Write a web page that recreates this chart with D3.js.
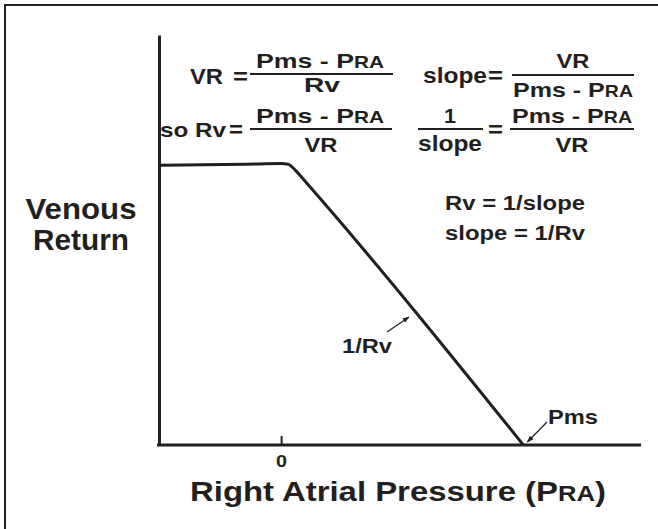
<!DOCTYPE html>
<html><head><meta charset="utf-8">
<script src="https://cdn.jsdelivr.net/npm/d3@7"></script>
<style>
html,body{margin:0;padding:0;background:#fff;}
svg{display:block;}
text{font-family:"Liberation Sans",Arial,Helvetica,sans-serif;font-weight:bold;fill:#231f20;}
</style></head>
<body>
<script>
// ---- data ----
const pressure = [-3.5, -1.0, 0.0, 0.2, 0.4, 0.7, 7.0];      // right atrial pressure (PRA)
const venousReturn = [4.98, 5.0, 5.01, 5.0, 4.9, 4.69, 0.0]; // venous return
const xTicks = [0];
const xTickLabels = ["0"];
const pmsValue = 7.0;
const yTitle = ["Venous", "Return"];
const xTitle = ["Right Atrial Pressure (P", "RA", ")"];
const slopeLabel = "1/Rv";
const pmsLabel = "Pms";
const relations = ["Rv = 1/slope", "slope = 1/Rv"];

const W = 658, H = 529;
const ink = "#231f20";
const svg = d3.select("body").append("svg").attr("width", W).attr("height", H);

// outer frame (only left and top visible)
svg.append("rect").attr("x", 5).attr("y", 5).attr("width", 700).attr("height", 600)
  .attr("fill", "none").attr("stroke", ink).attr("stroke-width", 2);

const x = d3.scaleLinear().domain([-3.5, 10.4]).range([160, 641]);
const y = d3.scaleLinear().domain([0, 7.3]).range([445, 35]);

// x axis
const xAxis = svg.append("g").attr("transform", `translate(0,${y(0)})`)
  .call(d3.axisBottom(x).tickValues(xTicks).tickFormat((d, i) => xTickLabels[i])
    .tickSizeInner(-9).tickSizeOuter(0).tickPadding(10));
xAxis.select(".domain").attr("stroke", ink).attr("stroke-width", 3)
  .attr("d", `M${x.range()[0] - 3},0H${x.range()[1]}`);
xAxis.selectAll(".tick line").attr("stroke", ink).attr("stroke-width", 2);
xAxis.selectAll(".tick text").attr("font-size", 17).attr("fill", ink)
  .attr("font-family", "Liberation Sans, Arial, sans-serif").attr("font-weight", "bold")
  .attr("textLength", 11).attr("lengthAdjust", "spacingAndGlyphs");

// y axis
const yAxis = svg.append("g").attr("transform", `translate(${x.range()[0] - 1},0)`)
  .call(d3.axisLeft(y).tickValues([]).tickSizeOuter(0));
yAxis.select(".domain").attr("stroke", ink).attr("stroke-width", 3);

// curve
const pts = pressure.map((p, i) => [p, venousReturn[i]]);
svg.append("path").datum(pts)
  .attr("fill", "none").attr("stroke", ink).attr("stroke-width", 3).attr("stroke-linejoin", "round")
  .attr("d", d3.line().x(d => x(d[0])).y(d => y(d[1])).curve(d3.curveMonotoneX));

// arrow marker
const defs = svg.append("defs");
defs.append("marker").attr("id", "ah").attr("viewBox", "0 0 10 10").attr("refX", 9).attr("refY", 5)
  .attr("markerWidth", 7).attr("markerHeight", 7).attr("orient", "auto-start-reverse")
  .attr("markerUnits", "userSpaceOnUse")
  .append("path").attr("d", "M0,1.5L10,5L0,8.5Z").attr("fill", ink);

// helper for text with small caps part, stretched to the measured width
function rich(g, parts, px, py, size, anchor, len) {
  const t = g.append("text").attr("x", px).attr("y", py).attr("font-size", size)
    .attr("text-anchor", anchor || "start");
  parts.forEach(p => {
    t.append("tspan").text(p[0]).attr("font-size", size * p[1]);
  });
  if (len) t.attr("textLength", len).attr("lengthAdjust", "spacingAndGlyphs");
  return t;
}
const PmsPra = [["Pms - P", 1], ["RA", 0.78]];

// equations
const eq = svg.append("g");
const fs = 21;
function bar(x1, x2, yy) {
  eq.append("line").attr("x1", x1).attr("x2", x2).attr("y1", yy).attr("y2", yy)
    .attr("stroke", ink).attr("stroke-width", 2.2);
}
// row 1 left
rich(eq, [["VR", 1]], 190, 84, 22, "start", 33);
rich(eq, [["=", 1]], 233, 84, 22, "start", 15);
rich(eq, PmsPra, 320, 68, fs, "middle", 128);
bar(250, 393, 74);
rich(eq, [["Rv", 1]], 322, 92, fs, "middle", 36);
// row 1 right
rich(eq, [["slope", 1]], 423, 83, 22, "start", 64);
rich(eq, [["=", 1]], 488, 83, 22, "start", 15);
rich(eq, [["VR", 1]], 573, 68, fs, "middle", 33);
bar(512, 634, 75);
rich(eq, PmsPra, 573, 97, fs, "middle", 120);
// row 2 left
rich(eq, [["so Rv", 1]], 160, 137, 21, "start", 66);
rich(eq, [["=", 1]], 229, 137, 22, "start", 14);
rich(eq, PmsPra, 320, 123, fs, "middle", 128);
bar(250, 392, 129);
rich(eq, [["VR", 1]], 321, 152, fs, "middle", 33);
// row 2 right
rich(eq, [["1", 1]], 450, 123, fs, "middle", 12);
bar(418, 483, 129);
rich(eq, [["slope", 1]], 450, 151, 22, "middle", 64);
rich(eq, [["=", 1]], 488, 137, 22, "start", 15);
rich(eq, PmsPra, 572, 123, fs, "middle", 120);
bar(510, 634, 129);
rich(eq, [["VR", 1]], 572, 152, fs, "middle", 33);

// relations
relations.forEach((r, i) => {
  svg.append("text").attr("x", 515).attr("y", 210 + i * 30).attr("font-size", 20)
    .attr("text-anchor", "middle").attr("textLength", 140).attr("lengthAdjust", "spacingAndGlyphs").text(r);
});

// 1/Rv label + arrow
svg.append("text").attr("x", 342).attr("y", 353).attr("font-size", 21)
  .attr("textLength", 50).attr("lengthAdjust", "spacingAndGlyphs").text(slopeLabel);
svg.append("line").attr("x1", 387).attr("y1", 332).attr("x2", 409).attr("y2", 317)
  .attr("stroke", ink).attr("stroke-width", 1.2).attr("marker-end", "url(#ah)");

// Pms label + arrow
svg.append("text").attr("x", 548).attr("y", 424).attr("font-size", 21)
  .attr("textLength", 50).attr("lengthAdjust", "spacingAndGlyphs").text(pmsLabel);
svg.append("line").attr("x1", 547).attr("y1", 422).attr("x2", x(pmsValue) + 4).attr("y2", y(0) - 3)
  .attr("stroke", ink).attr("stroke-width", 1.2).attr("marker-end", "url(#ah)");

// y title
const yLens = [111, 96];
yTitle.forEach((t, i) => {
  svg.append("text").attr("x", 81).attr("y", 219 + i * 31).attr("font-size", 29)
    .attr("text-anchor", "middle").attr("textLength", yLens[i]).attr("lengthAdjust", "spacingAndGlyphs").text(t);
});

// x title
rich(svg, [[xTitle[0], 1], [xTitle[1], 0.78], [xTitle[2], 1]], 398, 501, 28, "middle", 416);
</script>
</body></html>
